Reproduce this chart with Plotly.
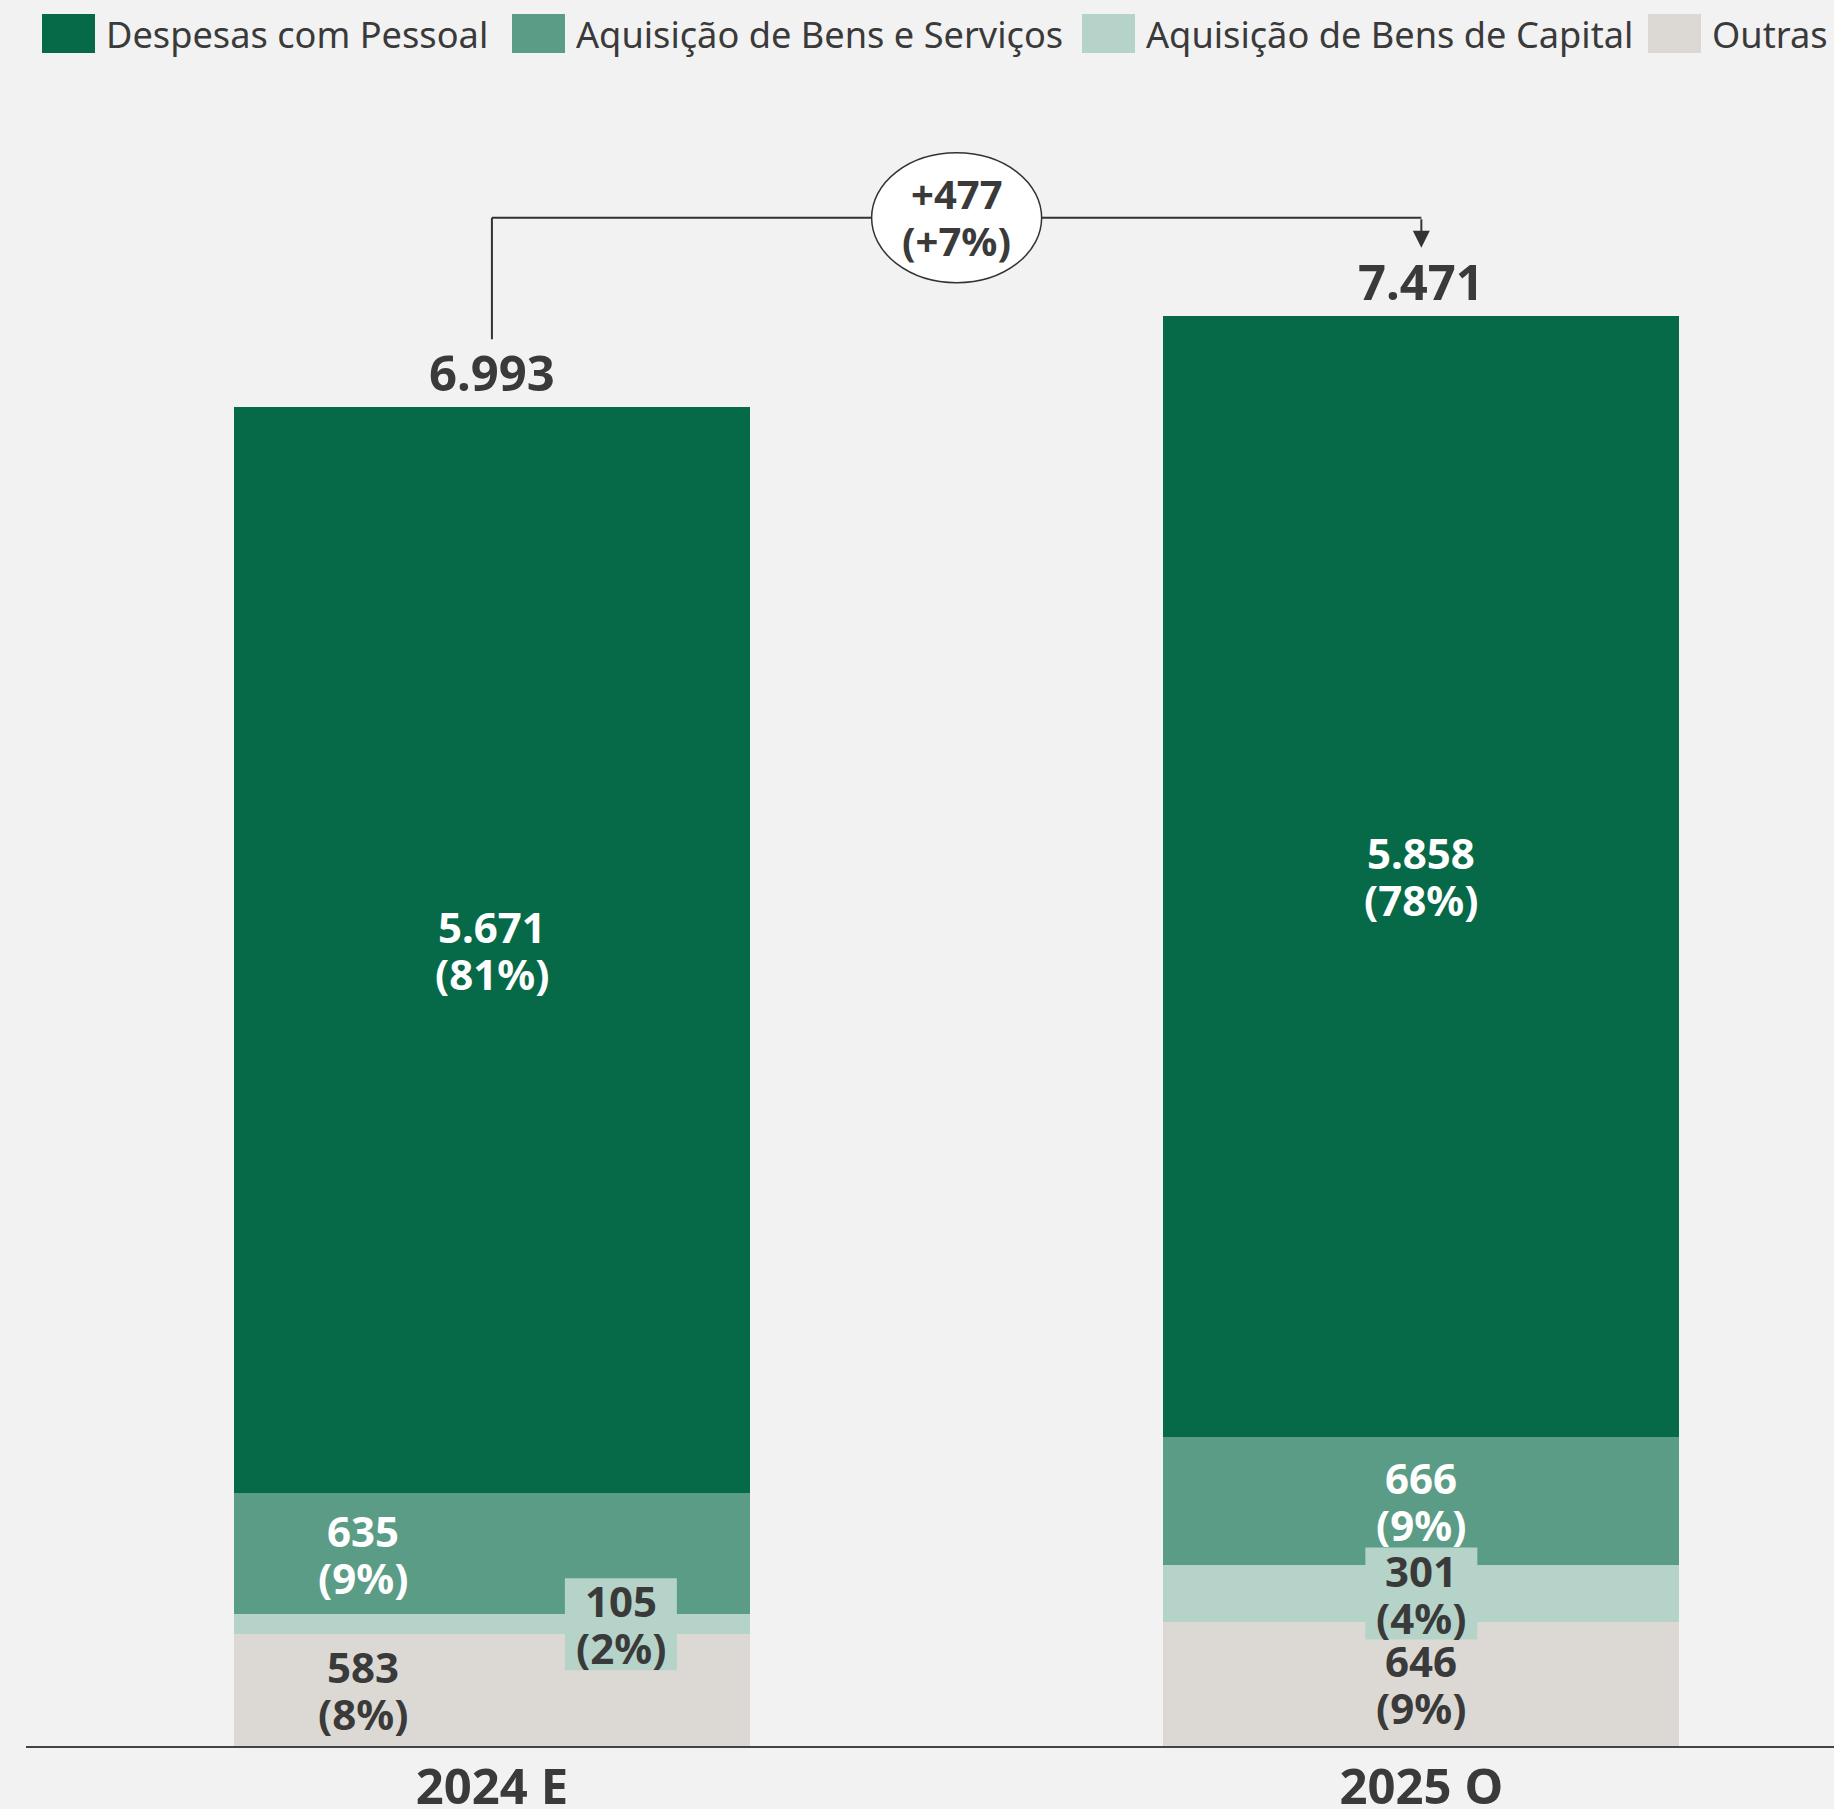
import plotly.graph_objects as go

# ---------------- data ----------------
categories = ["2024 E", "2025 O"]
legend_names = ["Despesas com Pessoal", "Aquisição de Bens e Serviços",
                "Aquisição de Bens de Capital", "Outras"]
pessoal = [5671, 5858]
servicos = [635, 666]
capital = [105, 301]
outras = [583, 646]
pessoal_pct = ["81%", "78%"]
servicos_pct = ["9%", "9%"]
capital_pct = ["2%", "4%"]
outras_pct = ["8%", "9%"]
totals = [6993, 7471]
change_abs = "+477"
change_pct = "+7%"

# ---------------- style / layout ----------------
W, H = 1834, 1809
ML, MR, MT, MB = 26, 0, 100, 63
PLOT_W = W - ML - MR
PLOT_H = H - MT - MB
YMAX = 8598
PXY = PLOT_H / YMAX
XR = [-0.5013, 1.444]
BAR_W = 0.555
FONT = "Noto Sans"
DARK = "#3a3a3a"
BG = "#f2f2f2"
colors = {"pessoal": "#066a48", "servicos": "#5b9c86",
          "capital": "#b5d3c8", "outras": "#dcd9d4"}
text_colors = {"pessoal": "white", "servicos": "white",
               "capital": DARK, "outras": DARK}
# horizontal label offsets (fraction of bar width) per bar
label_offsets = {"pessoal": [0, 0], "servicos": [-0.25, 0],
                 "capital": [0.25, 0], "outras": [-0.25, 0]}

series = [  # bottom to top
    ("outras", "Outras", outras, outras_pct),
    ("capital", "Aquisição de Bens de Capital", capital, capital_pct),
    ("servicos", "Aquisição de Bens e Serviços", servicos, servicos_pct),
    ("pessoal", "Despesas com Pessoal", pessoal, pessoal_pct),
]


def fmt(v):
    return f"{v:,}".replace(",", ".")


xs = list(range(len(categories)))
fig = go.Figure()
for key, name, vals, _ in series:
    fig.add_trace(go.Bar(x=xs, y=vals, name=name, width=BAR_W,
                         marker=dict(color=colors[key], line=dict(width=0)),
                         showlegend=False, hoverinfo="skip"))

annotations = []
shapes = []
LINE_SP = 47
base = [0] * len(categories)
for key, name, vals, pcts in series:
    for i, v in enumerate(vals):
        yc = base[i] + v / 2
        xc = xs[i] + label_offsets[key][i] * BAR_W
        if key == "capital":
            shapes.append(dict(type="rect", xref="x", yref="y",
                               xsizemode="pixel", ysizemode="pixel",
                               xanchor=xc, yanchor=yc,
                               x0=-56, x1=56, y0=-46, y1=46,
                               fillcolor=colors[key], line=dict(width=0),
                               layer="above"))
        for t, sh in ((fmt(v), LINE_SP / 2), (f"({pcts[i]})", -LINE_SP / 2)):
            annotations.append(dict(x=xc, y=yc, xref="x", yref="y", text=t,
                                    showarrow=False, yshift=sh,
                                    font=dict(family=FONT, size=42, weight=700,
                                              color=text_colors[key])))
        base[i] += v

# total labels
for i, t in enumerate(totals):
    annotations.append(dict(x=xs[i], y=t, xref="x", yref="y", text=fmt(t),
                            showarrow=False, yshift=35,
                            font=dict(family=FONT, size=49, weight=700, color=DARK)))

# bracket with change
y_br = max(totals) + 98 / PXY
y_start = [t + 68 / PXY for t in totals]
shapes.append(dict(type="line", xref="x", yref="y", x0=xs[0], x1=xs[1],
                   y0=y_br, y1=y_br, line=dict(color="#333333", width=2)))
shapes.append(dict(type="line", xref="x", yref="y", x0=xs[0], x1=xs[0],
                   y0=y_start[0], y1=y_br, line=dict(color="#333333", width=2)))
annotations.append(dict(x=xs[1], y=y_start[1], ax=xs[1], ay=y_br,
                        xref="x", yref="y", axref="x", ayref="y", text="",
                        showarrow=True, arrowhead=2, arrowsize=1.7,
                        arrowwidth=2, arrowcolor="#333333"))
xm = (xs[0] + xs[1]) / 2
shapes.append(dict(type="circle", xref="x", yref="y",
                   xsizemode="pixel", ysizemode="pixel",
                   xanchor=xm, yanchor=y_br, x0=-85, x1=85, y0=-65, y1=65,
                   fillcolor="white", line=dict(color="#333333", width=1.5),
                   layer="above"))
for t, sh in ((change_abs, LINE_SP / 2 + 1), (f"({change_pct})", -LINE_SP / 2 + 1)):
    annotations.append(dict(x=xm, y=y_br, xref="x", yref="y", text=t,
                            showarrow=False, yshift=sh,
                            font=dict(family=FONT, size=40, weight=700, color=DARK)))

# custom legend
legend_colors = [colors["pessoal"], colors["servicos"], colors["capital"], colors["outras"]]
legend_x = [42, 512, 1082, 1648]
def xp(px):
    return (px - ML) / PLOT_W
def yp(py):
    return (H - MB - py) / PLOT_H
for name, c, lx in zip(legend_names, legend_colors, legend_x):
    shapes.append(dict(type="rect", xref="paper", yref="paper",
                       x0=xp(lx), x1=xp(lx + 53), y0=yp(53), y1=yp(14),
                       fillcolor=c, line=dict(width=0)))
    annotations.append(dict(x=xp(lx + 62), y=yp(34), xref="paper", yref="paper",
                            xanchor="left", yanchor="middle", text=name,
                            showarrow=False,
                            font=dict(family=FONT, size=36.2, color=DARK)))

fig.update_layout(
    width=W, height=H, barmode="stack",
    margin=dict(l=ML, r=MR, t=MT, b=MB),
    paper_bgcolor=BG, plot_bgcolor=BG,
    xaxis=dict(range=XR, tickvals=xs, ticktext=categories, showgrid=False,
               zeroline=False, showline=True, linecolor="#444444", linewidth=2,
               ticks="", ticklabelstandoff=-3, automargin=False,
               tickfont=dict(family=FONT, size=49, weight=700, color=DARK),
               fixedrange=True),
    yaxis=dict(range=[0, YMAX], visible=False, fixedrange=True, automargin=False),
    annotations=annotations, shapes=shapes,
    showlegend=False,
)
fig.write_html("out.html", config={"displayModeBar": False},
               post_script="document.body.style.margin='0';"
                           "document.body.style.overflow='hidden';")
